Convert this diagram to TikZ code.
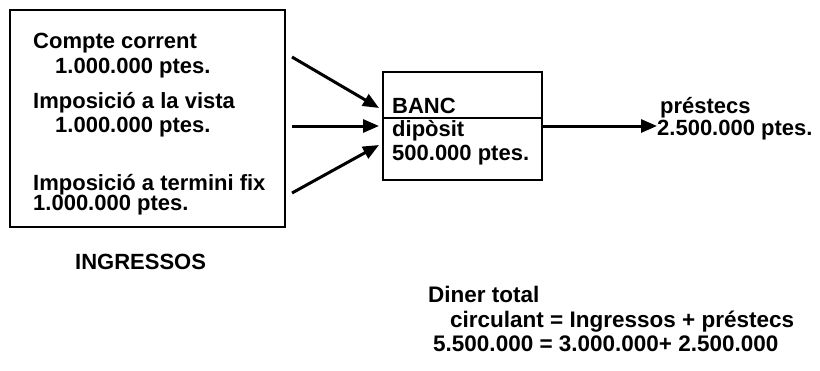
\documentclass[tikz,border=0pt]{standalone}
\usepackage{fontspec}
\setmainfont{Liberation Sans}
\usetikzlibrary{positioning, calc, arrows.meta}

\begin{document}
\begin{tikzpicture}[x=1pt, y=-1pt,
    txt/.style={anchor=base west, inner sep=0pt, font=\fontsize{22}{26}\selectfont\bfseries},
    box/.style={draw, line width=2.8pt, inner sep=0pt},
    arr/.style={line width=3pt, -{Triangle[length=16pt, width=13pt]}}]

    \useasboundingbox (0,0) rectangle (820,370);

    % ;- Ingressos (left) ;-
    \node[box, minimum width=275pt, minimum height=217pt] (ingbox) at (147.5,118.5) {};
    \node[txt] (cc) at (33,48) {Compte corrent};
    \node[txt] (ccval) at (55,73) {1.000.000 ptes.};
    \node[txt] (iv) at (33,108) {Imposició a la vista};
    \node[txt] (ivval) at (55,132) {1.000.000 ptes.};
    \node[txt] (it) at (33,190) {Imposició a termini fix};
    \node[txt] (itval) at (33,210) {1.000.000 ptes.};
    \node[txt] (ingr) at (75,269) {INGRESSOS};

    % ;- Banc (middle) ;-
    \node[box, minimum width=159pt, minimum height=108pt] (banc) at (462.5,126) {};
    \draw[line width=2.2pt] (banc.west |- 0,118) -- (banc.east |- 0,118);
    \node[txt] (bname) at (392,113) {BANC};
    \node[txt] (bdip) at (392,136) {dipòsit};
    \node[txt] (bval) at (392,160) {500.000 ptes.};

    % incoming arrows
    \coordinate (in1) at (292,57);
    \coordinate (in2) at (292,126);
    \coordinate (in3) at (292,193);
    \coordinate (end1) at (379,108);
    \coordinate (end2) at (379,126);
    \coordinate (end3) at (379,145);
    \draw[arr] (in1) -- (end1);
    \draw[arr] (in2) -- (end2);
    \draw[arr] (in3) -- (end3);

    % ;- Prestecs (right) ;-
    \node[txt] (prest) at (660,113) {préstecs};
    \node[txt] (prestval) at (657,135) {2.500.000 ptes.};
    \draw[arr] (banc.east |- 0,126) -- (prestval.west |- 0,126);

    % ;- Total ;-
    \begin{scope}[txt/.append style={font=\fontsize{22.5}{26}\selectfont\bfseries}]
    \node[txt] (diner) at (428,302) {Diner total};
    \node[txt] (circ) at (450,327) {circulant = Ingressos + préstecs};
    \node[txt] (suma) at (433,351) {5.500.000 = 3.000.000+ 2.500.000};
    \end{scope}

\end{tikzpicture}
\end{document}
